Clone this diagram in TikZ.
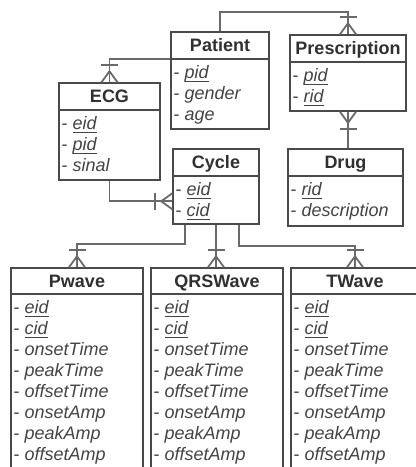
\documentclass[tikz,border=0pt]{standalone}
\usepackage{fontspec}
\setmainfont{Liberation Sans}
\usetikzlibrary{fit}
\definecolor{boxc}{HTML}{4A4A4A}
\definecolor{connc}{HTML}{6A6A6A}
\definecolor{txtc}{HTML}{303030}
\definecolor{attc}{HTML}{444444}
\newcommand\erkey[1]{-~\setbox0=\hbox{\itshape #1}\rlap{\rule[-3.6pt]{\wd0}{1.3pt}}\box0}
\newcommand\erattr[1]{-~{\itshape #1}}
\tikzset{
  ebox/.style={draw=boxc, line width=1.5pt, inner sep=0pt},
  conn/.style={draw=connc, line width=1.8pt},
  htext/.style={text=txtc, font=\fontsize{18}{20}\selectfont\bfseries, inner sep=0pt},
  btext/.style={text=attc, font=\fontsize{18}{20}\selectfont, inner sep=0pt},
  crow/.pic={
    \draw[conn] (-8,0) -- (0,-11) -- (8,0);
    \draw[conn] (0,0) -- (0,-11);
    \draw[conn] (-8.5,-17) -- (8.5,-17);
  }
}
\newcommand\erentity[8]{%
  \coordinate (#1-nw) at (#2,#3);
  \coordinate (#1-se) at (#4,#5);
  \node[ebox, fit=(#1-nw)(#1-se)] (#1) {};
  \draw[ebox] (#2,#6) -- (#4,#6);
  \node[htext, anchor=base] (#1-t) at ({(#2+#4)/2},{(#3+#6)/2+6.4}) {#7};
  \foreach \erl [count=\eri] in {#8} {\node[btext, anchor=base west] (#1-a\eri) at (#2+2.5,{#6+19.5+21*(\eri-1)}) {\erl};}
}
\begin{document}
\begin{tikzpicture}[x=1pt,y=-1pt]
\useasboundingbox (0,0) rectangle (416,467);
\fill[white] (0,0) rectangle (416,467);
\clip (0,0) rectangle (416,467);

\erentity{patient}{171}{32}{269}{129}{59}{Patient}{\erkey{pid},\erattr{gender},\erattr{age}}
\erentity{prescription}{290}{35}{406}{111}{62}{Prescription}{\erkey{pid},\erkey{rid}}
\erentity{ecg}{59}{83}{160}{180}{110}{ECG}{\erkey{eid},\erkey{pid},\erattr{sinal}}
\erentity{cycle}{173}{149}{259}{224}{176}{Cycle}{\erkey{eid},\erkey{cid}}
\erentity{drug}{288}{149}{403}{226}{176}{Drug}{\erkey{rid},\erattr{description}}
\erentity{pwave}{11}{268}{143}{490}{294}{Pwave}{\erkey{eid},\erkey{cid},\erattr{onsetTime},\erattr{peakTime},\erattr{offsetTime},\erattr{onsetAmp},\erattr{peakAmp},\erattr{offsetAmp}}
\erentity{qrs}{151}{268}{283}{490}{294}{QRSWave}{\erkey{eid},\erkey{cid},\erattr{onsetTime},\erattr{peakTime},\erattr{offsetTime},\erattr{onsetAmp},\erattr{peakAmp},\erattr{offsetAmp}}
\erentity{twave}{291}{268}{419}{490}{294}{TWave}{\erkey{eid},\erkey{cid},\erattr{onsetTime},\erattr{peakTime},\erattr{offsetTime},\erattr{onsetAmp},\erattr{peakAmp},\erattr{offsetAmp}}

% connectors
\draw[conn] ([yshift=-28pt]patient.north west) -| (ecg.north);
\pic at (ecg.north) {crow};

\draw[conn] (patient.north) -- ++(0,-19) -| (prescription.north);
\pic at (prescription.north) {crow};

\draw[conn] (prescription.south) -- (prescription.south |- drug.north);
\pic[rotate=180] at (prescription.south) {crow};

\coordinate (cyclein) at ([yshift=-53pt]cycle.north west);
\draw[conn] (ecg.south) |- (cyclein);
\pic[rotate=90] at (cyclein) {crow};

\coordinate (cp) at ([xshift=13pt]cycle.south west);
\draw[conn] (cp) -- ++(0,19) -| (pwave.north);
\pic at (pwave.north) {crow};

\draw[conn] (cycle.south) -- (cycle.south |- qrs.north);
\pic at (cycle.south |- qrs.north) {crow};

\coordinate (ct) at ([xshift=-21pt]cycle.south east);
\draw[conn] (ct) -- ++(0,21) -| (twave.north);
\pic at (twave.north) {crow};
\end{tikzpicture}
\end{document}
